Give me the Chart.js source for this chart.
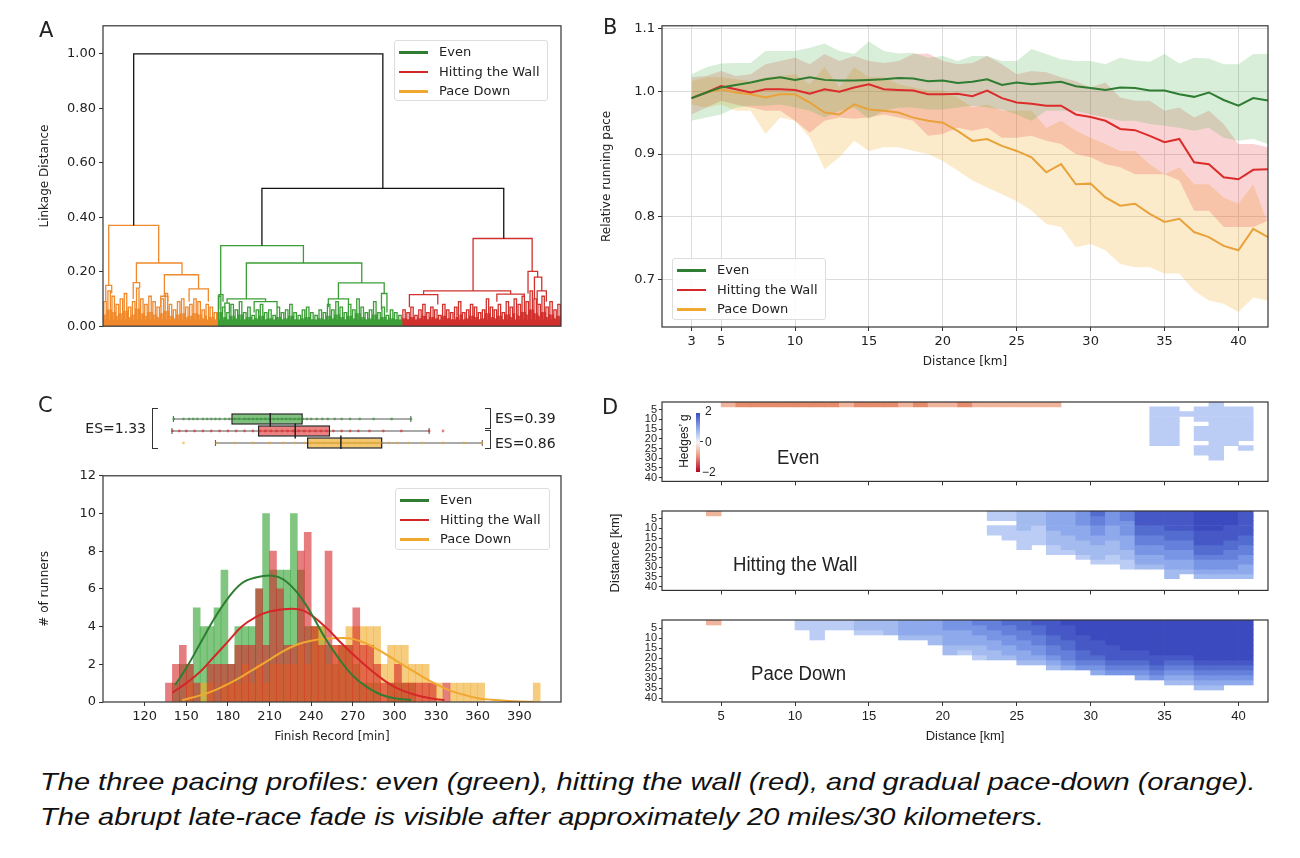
<!DOCTYPE html>
<html>
<head>
<meta charset="utf-8">
<script src="https://cdn.jsdelivr.net/npm/chart.js@4.4.1/dist/chart.umd.min.js"></script>
<style>
  body { margin: 0; background: #fff; width: 1300px; height: 858px; position: relative; overflow: hidden;
         font-family: "DejaVu Sans", sans-serif; color: #222; }
  canvas, .abs { position: absolute; }
  .lbl { font-size: 21px; line-height: 24px; }
  .legend { position: absolute; border: 1px solid #ddd; border-radius: 3px; background: rgba(255,255,255,0.85);
            font-size: 13px; box-sizing: border-box; padding: 1px 0 0 4px; }
  .legend div { height: 19.5px; line-height: 19.5px; white-space: nowrap; }
  .legend span { display: inline-block; width: 29px; height: 2.5px; vertical-align: middle; margin-right: 11px; }
  .es { font-size: 14px; line-height: 16px; white-space: nowrap; }
  .brk { position: absolute; border: 1.5px solid #333; box-sizing: border-box; }
  .rot { position: absolute; transform: translate(-50%, -50%) rotate(-90deg); white-space: nowrap; }
  .dtxt { font-family: "Liberation Sans", sans-serif; font-size: 17px; line-height: 20px; white-space: nowrap; }
  .big { font-size: 20px; line-height: 22px; transform: scaleX(0.93); transform-origin: left center; }
  .cap { left: 40px; top: 764px; font-family: "Liberation Sans", sans-serif; font-style: italic;
         font-size: 24px; line-height: 35px; color: #111; white-space: nowrap;
         transform: scaleX(1.21); transform-origin: left top; }
</style>
</head>
<body>

<canvas id="cA" width="537" height="322" style="left:34px;top:15px"></canvas>
<canvas id="cB" width="682" height="358" style="left:596px;top:15px"></canvas>
<canvas id="cBox" width="537" height="54" style="left:34px;top:404px"></canvas>
<canvas id="cC" width="537" height="283" style="left:34px;top:465px"></canvas>
<canvas id="cD1" width="682" height="98" style="left:596px;top:392px"></canvas>
<canvas id="cD2" width="682" height="98" style="left:596px;top:501px"></canvas>
<canvas id="cD3" width="682" height="138" style="left:596px;top:610px"></canvas>

<div class="abs lbl" style="left:39px;top:18px">A</div>
<div class="abs lbl" style="left:603px;top:15px">B</div>
<div class="abs lbl" style="left:38px;top:393px">C</div>
<div class="abs lbl" style="left:602px;top:395px">D</div>

<div class="legend" style="left:394px;top:40px;width:154px;height:61px">
  <div><span style="background:#2e7d32"></span>Even</div>
  <div><span style="background:#d62728"></span>Hitting the Wall</div>
  <div><span style="background:#f0a830"></span>Pace Down</div>
</div>
<div class="legend" style="left:672px;top:258px;width:154px;height:62px">
  <div><span style="background:#2e7d32"></span>Even</div>
  <div><span style="background:#d62728"></span>Hitting the Wall</div>
  <div><span style="background:#f0a830"></span>Pace Down</div>
</div>
<div class="legend" style="left:395px;top:488px;width:155px;height:62px">
  <div><span style="background:#2e7d32"></span>Even</div>
  <div><span style="background:#d62728"></span>Hitting the Wall</div>
  <div><span style="background:#f0a830"></span>Pace Down</div>
</div>

<!-- effect size brackets above the histogram -->
<div class="abs es" style="left:80px;top:420px;width:66px;text-align:right">ES=1.33</div>
<div class="brk" style="left:152px;top:408px;width:6px;height:41px;border-right:none"></div>
<div class="brk" style="left:485px;top:408px;width:6px;height:21px;border-left:none"></div>
<div class="brk" style="left:485px;top:430px;width:6px;height:19px;border-left:none"></div>
<div class="abs es" style="left:495px;top:410px">ES=0.39</div>
<div class="abs es" style="left:495px;top:435px">ES=0.86</div>

<!-- panel D texts and colour bar -->
<div class="abs dtxt big" style="left:777px;top:446px">Even</div>
<div class="abs dtxt big" style="left:733px;top:553px">Hitting the Wall</div>
<div class="abs dtxt big" style="left:751px;top:662px">Pace Down</div>
<div class="abs" style="left:696px;top:413px;width:4px;height:59px;
     background:linear-gradient(to bottom,#3b4cc0,#9fb8f0 30%,#f4f4f4 50%,#efa58a 70%,#b40426)"></div>
<div class="abs" style="left:700px;top:441px;width:3px;height:1px;background:#333"></div>
<div class="abs dtxt" style="left:705px;top:404px;font-size:12px;line-height:14px">2</div>
<div class="abs dtxt" style="left:705px;top:435px;font-size:12px;line-height:14px">0</div>
<div class="abs dtxt" style="left:702px;top:465px;font-size:12px;line-height:14px">&minus;2</div>
<div class="rot dtxt" style="left:684px;top:441px;font-size:12px;line-height:14px">Hedges’ g</div>
<div class="rot dtxt" style="left:614px;top:553px;font-size:13px;line-height:15px">Distance [km]</div>

<div class="abs cap">The three pacing profiles: even (green), hitting the wall (red), and gradual pace-down (orange).<br>The abrupt late-race fade is visible after approximately 20 miles/30 kilometers.</div>

<script>
// ---------- Panel A: dendrogram (leaf axis 0..1000, height = linkage distance) ----------
// links: [left x, right x, height, left child height, right child height]
const rootLinks = [[67, 611, 1.0, 0.37, 0.506], [347, 875, 0.506, 0.296, 0.322]];
const orangeLinks = [[12.5, 121.6, 0.37, 0.15, 0.232], [73, 172.5, 0.232, 0.16, 0.189], [134, 208.6, 0.189, 0.11, 0.137],
  [188, 230, 0.137, 0.09, 0.09], [6, 19, 0.15, 0.09, 0.12], [66, 80, 0.16, 0.1, 0.14], [126, 142, 0.11, 0.07, 0.09]];
const greenLinks = [[257, 437.6, 0.296, 0.116, 0.232], [313, 565, 0.232, 0.1, 0.159], [514, 614, 0.159, 0.1, 0.12],
  [253, 262, 0.116, 0.06, 0.09], [271, 355, 0.1, 0.085, 0.09], [492, 536, 0.1, 0.07, 0.08], [608, 620, 0.12, 0.06, 0.05],
  [266, 276, 0.085, 0.05, 0.05], [330, 380, 0.09, 0.05, 0.06]];
const redLinks = [[808, 937, 0.322, 0.13, 0.201], [700, 890, 0.13, 0.116, 0.118], [669, 731, 0.116, 0.07, 0.08],
  [860, 920, 0.118, 0.09, 0.1], [928, 949, 0.201, 0.12, 0.18], [942, 958, 0.18, 0.1, 0.13], [948, 968, 0.13, 0.08, 0.09]];
// leaf ranges of the three clusters and the heights of their low-level merges
const orangeSpan = [0, 250];
const greenSpan = [250, 653];
const redSpan = [653, 1000];
const orangeFuzz = [0.09, 0.13, 0.11, 0.08, 0.1, 0.12, 0.07, 0.09, 0.14, 0.1, 0.08, 0.11, 0.09, 0.07, 0.1, 0.12, 0.08, 0.06,
  0.09, 0.1, 0.07, 0.08, 0.1, 0.09, 0.06, 0.08, 0.07, 0.05];
const greenFuzz = [0.11, 0.07, 0.05, 0.08, 0.06, 0.09, 0.05, 0.07, 0.04, 0.06, 0.08, 0.05, 0.06, 0.04, 0.07, 0.05, 0.06, 0.08,
  0.05, 0.04, 0.06, 0.07, 0.05, 0.04, 0.06, 0.05, 0.08, 0.06, 0.09, 0.07, 0.05, 0.08, 0.06, 0.1, 0.07, 0.05, 0.06, 0.09, 0.05,
  0.07, 0.04, 0.06, 0.05, 0.04];
const redFuzz = [0.06, 0.05, 0.07, 0.04, 0.06, 0.08, 0.05, 0.07, 0.06, 0.04, 0.08, 0.06, 0.05, 0.07, 0.09, 0.05, 0.06, 0.08,
  0.07, 0.05, 0.06, 0.1, 0.07, 0.06, 0.08, 0.05, 0.09, 0.07, 0.1, 0.08, 0.11, 0.09, 0.13, 0.1, 0.08, 0.11, 0.07, 0.09, 0.06, 0.08];
const linkageTicks = [0, 0.2, 0.4, 0.6, 0.8, 1.0];

// ---------- Panel B: relative running pace ----------
const kmPoints = [3, 4, 5, 6, 7, 8, 9, 10, 11, 12, 13, 14, 15, 16, 17, 18, 19, 20, 21, 22, 23, 24, 25, 26, 27, 28, 29, 30,
  31, 32, 33, 34, 35, 36, 37, 38, 39, 40, 41, 42];
const evenPace = [0.989, 0.998, 1.006, 1.010, 1.014, 1.019, 1.022, 1.018, 1.022, 1.018, 1.017, 1.017, 1.018, 1.019, 1.021,
  1.020, 1.016, 1.017, 1.013, 1.015, 1.019, 1.010, 1.014, 1.011, 1.013, 1.015, 1.008, 1.005, 1.002, 1.006, 1.005, 1.001,
  1.001, 0.995, 0.991, 0.998, 0.986, 0.977, 0.989, 0.985];
const evenUpper = [1.027, 1.038, 1.044, 1.045, 1.045, 1.064, 1.064, 1.064, 1.069, 1.076, 1.064, 1.059, 1.079, 1.064, 1.060,
  1.061, 1.053, 1.056, 1.048, 1.056, 1.056, 1.048, 1.048, 1.067, 1.059, 1.051, 1.048, 1.048, 1.043, 1.053, 1.049, 1.047,
  1.059, 1.044, 1.053, 1.052, 1.043, 1.043, 1.059, 1.059];
const evenLower = [0.953, 0.958, 0.963, 0.974, 0.977, 0.977, 0.979, 0.974, 0.969, 0.958, 0.969, 0.974, 0.956, 0.969, 0.974,
  0.974, 0.971, 0.971, 0.974, 0.977, 0.974, 0.971, 0.963, 0.953, 0.969, 0.969, 0.969, 0.963, 0.958, 0.953, 0.953, 0.948,
  0.945, 0.942, 0.937, 0.942, 0.926, 0.921, 0.924, 0.916];
const wallPace = [0.989, 0.998, 1.008, 1.003, 0.998, 1.003, 1.003, 1.002, 0.996, 1.003, 0.999, 1.006, 1.011, 1.003, 1.002,
  1.001, 0.995, 0.995, 0.996, 0.992, 1.001, 0.989, 0.982, 0.980, 0.977, 0.977, 0.963, 0.959, 0.953, 0.940, 0.938, 0.929,
  0.919, 0.924, 0.887, 0.884, 0.863, 0.860, 0.875, 0.876];
const wallUpper = [1.022, 1.024, 1.032, 1.024, 1.027, 1.043, 1.048, 1.053, 1.043, 1.059, 1.048, 1.056, 1.048, 1.045, 1.048,
  1.059, 1.060, 1.048, 1.043, 1.045, 1.056, 1.043, 1.027, 1.032, 1.030, 1.022, 1.016, 1.006, 1.014, 0.990, 0.985, 0.985,
  0.969, 0.974, 0.958, 0.969, 0.948, 0.916, 0.916, 0.911];
const wallLower = [0.963, 0.974, 0.985, 0.979, 0.974, 0.969, 0.969, 0.953, 0.934, 0.953, 0.958, 0.956, 0.958, 0.963, 0.958,
  0.953, 0.929, 0.932, 0.942, 0.937, 0.942, 0.926, 0.926, 0.929, 0.921, 0.916, 0.900, 0.895, 0.884, 0.879, 0.868, 0.868,
  0.868, 0.858, 0.810, 0.810, 0.784, 0.784, 0.784, 0.794];
const downPace = [0.989, 0.998, 1.003, 0.998, 0.995, 0.990, 0.995, 0.995, 0.982, 0.966, 0.963, 0.979, 0.971, 0.969, 0.966,
  0.958, 0.953, 0.950, 0.937, 0.921, 0.924, 0.913, 0.905, 0.895, 0.871, 0.884, 0.852, 0.853, 0.831, 0.818, 0.821, 0.805,
  0.792, 0.797, 0.776, 0.768, 0.754, 0.747, 0.781, 0.768];
const downUpper = [1.016, 1.022, 1.022, 1.019, 1.016, 1.022, 1.024, 1.027, 1.011, 1.038, 1.006, 1.038, 1.022, 1.022, 1.011,
  1.006, 1.001, 1.001, 0.990, 0.974, 0.979, 0.969, 0.969, 0.969, 0.942, 0.953, 0.937, 0.926, 0.916, 0.905, 0.905, 0.884,
  0.868, 0.879, 0.852, 0.852, 0.831, 0.821, 0.852, 0.789];
const downLower = [0.979, 0.974, 0.979, 0.969, 0.969, 0.932, 0.958, 0.953, 0.926, 0.876, 0.895, 0.921, 0.905, 0.911, 0.911,
  0.905, 0.900, 0.889, 0.874, 0.858, 0.847, 0.836, 0.825, 0.810, 0.789, 0.784, 0.752, 0.757, 0.747, 0.725, 0.720, 0.720,
  0.710, 0.710, 0.683, 0.667, 0.662, 0.649, 0.672, 0.667];
const distanceTicks = [3, 5, 10, 15, 20, 25, 30, 35, 40];
const paceTicks = [0.7, 0.8, 0.9, 1.0, 1.1];

// ---------- Panel C: finish times ----------
const binStarts = [135, 140, 145, 150, 155, 160, 165, 170, 175, 180, 185, 190, 195, 200, 205, 210, 215, 220, 225, 230, 235,
  240, 245, 250, 255, 260, 265, 270, 275, 280, 285, 290, 295, 300, 305, 310, 315, 320, 325, 330, 335, 340, 345, 350, 355,
  360, 365, 370, 375, 380, 385, 390, 395, 400];
const evenCounts = [0, 1, 2, 2, 5, 4, 4, 5, 7, 2, 4, 4, 4, 6, 10, 7, 7, 7, 10, 7, 4, 4, 4, 3, 2, 3, 3, 2, 1, 1, 1, 0, 1, 1, 1, 1,
  0, 0, 0, 0, 0, 0, 0, 0, 0, 0, 0, 0, 0, 0, 0, 0, 0, 0];
const wallCounts = [1, 2, 3, 2, 1, 0, 2, 2, 2, 2, 3, 3, 3, 6, 3, 8, 6, 3, 3, 8, 9, 4, 3, 8, 3, 3, 3, 5, 3, 3, 2, 1, 1, 2, 1, 1,
  1, 1, 1, 0, 1, 0, 0, 0, 0, 0, 0, 0, 0, 0, 0, 0, 0, 0];
const downCounts = [0, 0, 0, 1, 0, 1, 1, 0, 1, 1, 1, 2, 1, 2, 1, 2, 2, 2, 2, 3, 2, 4, 4, 2, 3, 3, 4, 4, 4, 4, 4, 2, 3, 3, 3, 2,
  2, 2, 1, 1, 0, 1, 1, 1, 1, 1, 0, 0, 0, 0, 0, 0, 0, 1];
// fitted normal curves: [minutes, runners]
const evenCurve = [[142, 0.9], [150, 1.8], [160, 3.1], [170, 4.4], [180, 5.5], [190, 6.3], [200, 6.6], [212, 6.7], [220, 6.5],
  [230, 5.8], [240, 4.7], [250, 3.4], [260, 2.3], [270, 1.4], [280, 0.8], [290, 0.4], [300, 0.2], [312, 0.1]];
const wallCurve = [[140, 0.5], [150, 1.0], [160, 1.6], [170, 2.4], [180, 3.2], [190, 4.0], [200, 4.5], [210, 4.8], [226, 4.95],
  [236, 4.8], [250, 4.0], [262, 3.1], [275, 2.2], [288, 1.4], [300, 0.8], [314, 0.4], [330, 0.15], [336, 0.1]];
const downCurve = [[147, 0.1], [160, 0.35], [170, 0.6], [180, 0.95], [190, 1.35], [200, 1.8], [210, 2.25], [220, 2.7],
  [230, 3.05], [240, 3.25], [250, 3.35], [262, 3.4], [270, 3.35], [280, 3.1], [290, 2.7], [300, 2.25], [310, 1.8],
  [320, 1.35], [330, 0.95], [340, 0.6], [350, 0.38], [360, 0.2], [370, 0.12], [380, 0.06], [390, 0.02], [400, 0.01]];
const finishTicks = [120, 150, 180, 210, 240, 270, 300, 330, 360, 390];
const runnerTicks = [0, 2, 4, 6, 8, 10, 12];
// box plots: [whisker low, q1, median, q3, whisker high]
const evenBox = [140.7, 182.4, 210.5, 234, 311.8];
const wallBox = [139.7, 201.6, 228.5, 253.7, 325];
const downBox = [171, 237, 261.4, 291.4, 363.3];
const evenDots = [141, 148, 152, 155, 158, 162, 165, 168, 171, 174, 178, 181, 185, 188, 192, 195, 198, 201, 204, 207, 210,
  213, 216, 219, 222, 225, 228, 231, 234, 237, 240, 244, 248, 252, 257, 262, 268, 275, 285, 298, 312];
const wallDots = [140, 145, 150, 156, 162, 168, 174, 180, 186, 192, 198, 203, 207, 211, 215, 219, 223, 227, 231, 235, 239,
  243, 247, 251, 256, 262, 268, 274, 282, 292, 305, 325, 335];
const downDots = [148, 172, 185, 198, 210, 220, 228, 235, 240, 245, 250, 255, 259, 263, 267, 271, 275, 280, 285, 290, 296,
  302, 310, 320, 335, 350, 363];

// ---------- Panel D: Hedges' g per km column, one character per 2.5 km row band ----------
// '1'..'9' = positive g (light to dark blue), 'a'..'c' = negative g, '0' = not significant
const evenCols = ['', '', '', '', 'a', 'b', 'b', 'b', 'b', 'b', 'b', 'b', 'a', 'b', 'b', 'b', 'a', 'b', 'a', 'a', 'b', 'a',
  'a', 'a', 'a', 'a', 'a', '', '', '', '', '', '', '022222222', '022222222', '0020', '02220222022', '222222222222',
  '022222222', '0222222202', ''];
const wallCols = ['', '', '', 'a', '', '', '', '', '', '', '', '', '', '', '', '', '', '', '', '', '', '', '22022', '220222',
  '33332222', '3332222', '444433322', '444443332', '5554443332', '76655443332', '55544433322', '665554443322',
  '888776655443', '888776655443', '88887766554433', '8888776655443', '99998887765543', '99998887765543',
  '99988877665543', '88888776655443', ''];
const paceCols = ['', '', '', 'a', '', '', '', '', '', '22', '2222', '22', '22', '332', '332', '333', '4443', '4443', '44433',
  '5544433', '5544432', '65544332', '66554433', '76655443', '776655443', '877665543', '8887766543', '9888776654',
  '9998887765', '99998887654', '99999888765', '99999988765', '999999887654', '999999988765', '9999999876543',
  '9999999876543', '99999999876543', '99999999876543', '9999999987654', '9999999987654', ''];
const heatTicks = [5, 10, 15, 20, 25, 30, 35, 40];

// ---------- styling ----------
const gColors = { '1': '#d5e0f7', '2': '#bccdf5', '3': '#a4bbf0', '4': '#8ea9ec', '5': '#7894e4', '6': '#6480da',
  '7': '#536ccf', '8': '#4658c6', '9': '#3b4bbf', 'a': '#f0b49c', 'b': '#e48c6c', 'c': '#d6684a' };

Chart.defaults.font.family = '"DejaVu Sans", sans-serif';
Chart.defaults.font.size = 13;
Chart.defaults.color = '#222';
Chart.defaults.animation = false;
Chart.defaults.responsive = false;
Chart.defaults.events = [];
Chart.defaults.plugins.legend.display = false;
Chart.defaults.plugins.tooltip.enabled = false;

// box around the plot area, like matplotlib spines
const framePlugin = {
  id: 'frame',
  afterDraw(chart) {
    const a = chart.chartArea, c = chart.ctx;
    c.save();
    c.strokeStyle = '#333';
    c.lineWidth = 1.2;
    c.strokeRect(a.left, a.top, a.right - a.left, a.bottom - a.top);
    c.restore();
  }
};

const fixW = w => s => { s.width = w; };
const fixH = h => s => { s.height = h; };
const setTicks = list => s => { s.ticks = list.map(v => ({ value: v })); };
const tickGrid = { drawOnChartArea: false, tickLength: 4, tickColor: '#333' };

// ---------- A ----------
function linkPoints(links) {
  const pts = [];
  links.forEach(([xl, xr, h, hl, hr]) => {
    pts.push({ x: xl, y: hl }, { x: xl, y: h }, { x: xr, y: h }, { x: xr, y: hr }, { x: xr, y: null });
  });
  return pts;
}
function fuzzLinks(hs, [a, b]) {
  const w = (b - a) / hs.length, out = [];
  hs.forEach((h, i) => {
    const xl = a + w * (i + 0.2), xr = a + w * (i + 0.8), lo = h * 0.45;
    out.push([xl, xr, h, lo, lo], [xl - w * 0.12, xl + w * 0.12, lo, 0, 0], [xr - w * 0.12, xr + w * 0.12, lo, 0, 0]);
  });
  return out;
}
function dendroSet(links, color) {
  return { data: linkPoints(links), showLine: true, borderColor: color, borderWidth: 1.3, pointRadius: 0 };
}
function baseSet([a, b], color) {
  return { data: [{ x: a, y: 0.025 }, { x: b, y: 0.025 }], showLine: true, fill: 'origin', backgroundColor: color,
    borderWidth: 0, pointRadius: 0 };
}
const orangeDendro = '#f0892c', greenDendro = '#3b9e36', redDendro = '#d0312d';

new Chart(document.getElementById('cA'), {
  type: 'scatter',
  data: { datasets: [
    dendroSet(rootLinks, '#111'),
    dendroSet(orangeLinks.concat(fuzzLinks(orangeFuzz, orangeSpan)), orangeDendro),
    dendroSet(greenLinks.concat(fuzzLinks(greenFuzz, greenSpan)), greenDendro),
    dendroSet(redLinks.concat(fuzzLinks(redFuzz, redSpan)), redDendro),
    baseSet(orangeSpan, orangeDendro), baseSet(greenSpan, greenDendro), baseSet(redSpan, redDendro)
  ] },
  options: {
    layout: { padding: { top: 10, right: 10, bottom: 10, left: 0 } },
    scales: {
      x: { type: 'linear', display: false, min: 0, max: 1000 },
      y: { type: 'linear', min: 0, max: 1.103, afterFit: fixW(69), afterBuildTicks: setTicks(linkageTicks),
        ticks: { autoSkip: false, callback: v => v.toFixed(2) }, grid: tickGrid, border: { display: false },
        title: { display: true, text: 'Linkage Distance', font: { size: 12 } } }
    }
  },
  plugins: [framePlugin]
});

// ---------- B ----------
const pts = arr => kmPoints.map((k, i) => ({ x: k, y: arr[i] }));
const lineSet = (arr, color) => ({ data: pts(arr), showLine: true, borderColor: color, borderWidth: 2, pointRadius: 0 });
const bandSet = (arr, fill) => ({ data: pts(arr), showLine: true, borderWidth: 0, pointRadius: 0,
  fill: fill ? '+1' : false, backgroundColor: fill || 'transparent' });
const lightGrid = { color: '#dcdcdc', tickLength: 4, tickColor: '#333' };

new Chart(document.getElementById('cB'), {
  type: 'scatter',
  data: { datasets: [
    lineSet(evenPace, '#2e7d32'), lineSet(wallPace, '#dc2b2b'), lineSet(downPace, '#e9a23b'),
    bandSet(evenUpper, 'rgba(60,170,60,0.2)'), bandSet(evenLower, null),
    bandSet(wallUpper, 'rgba(230,40,40,0.2)'), bandSet(wallLower, null),
    bandSet(downUpper, 'rgba(245,175,45,0.25)'), bandSet(downLower, null)
  ] },
  options: {
    layout: { padding: { top: 10, right: 10, bottom: 0, left: 0 } },
    scales: {
      x: { type: 'linear', min: 1, max: 42, afterFit: fixH(46), afterBuildTicks: setTicks(distanceTicks),
        ticks: { autoSkip: false, maxRotation: 0 }, grid: lightGrid, border: { display: false },
        title: { display: true, text: 'Distance [km]', font: { size: 12 } } },
      y: { type: 'linear', min: 0.625, max: 1.104, afterFit: fixW(66), afterBuildTicks: setTicks(paceTicks),
        ticks: { autoSkip: false, callback: v => v.toFixed(1) }, grid: lightGrid, border: { display: false },
        title: { display: true, text: 'Relative running pace', font: { size: 12 } } }
    }
  },
  plugins: [framePlugin]
});

// ---------- C: box plots ----------
const boxes = [evenBox, wallBox, downBox];
const boxFill = ['rgba(60,160,60,0.65)', 'rgba(228,60,60,0.65)', 'rgba(240,175,50,0.7)'];
const dotColor = ['rgba(50,150,50,0.6)', 'rgba(220,40,40,0.6)', 'rgba(240,170,40,0.6)'];
const boxSets = [{
  type: 'bar', indexAxis: 'y', order: 1,
  data: boxes.map((b, r) => ({ x: [b[1], b[3]], y: r })),
  backgroundColor: boxFill, borderColor: '#222', borderWidth: 1.5, borderSkipped: false,
  barPercentage: 0.96, categoryPercentage: 1
}];
boxes.forEach((b, r) => {
  boxSets.push({ type: 'scatter', order: 2, showLine: true, data: [{ x: b[0], y: r }, { x: b[4], y: r }],
    borderColor: '#555', borderWidth: 1, pointStyle: 'line', rotation: 90, pointRadius: 3, pointBorderColor: '#555' });
  boxSets.push({ type: 'scatter', order: 0, data: [{ x: b[2], y: r }], pointStyle: 'line', rotation: 90,
    pointRadius: 7.5, pointBorderColor: '#222', pointBorderWidth: 1.5 });
});
[evenDots, wallDots, downDots].forEach((d, r) => {
  boxSets.push({ type: 'scatter', order: 0, data: d.map(v => ({ x: v, y: r })), pointRadius: 1.4,
    pointBackgroundColor: dotColor[r], pointBorderWidth: 0 });
});
new Chart(document.getElementById('cBox'), {
  type: 'bar',
  data: { datasets: boxSets },
  options: {
    layout: { padding: { top: 4, right: 10, bottom: 5, left: 69 } },
    scales: {
      x: { type: 'linear', display: false, min: 90, max: 420, offset: false },
      y: { type: 'linear', display: false, min: -0.5, max: 2.5, reverse: true, offset: false }
    }
  }
});

// ---------- C: histogram ----------
const histSet = (counts, color, order) => ({
  type: 'bar', order, grouped: false, barPercentage: 1, categoryPercentage: 1, borderWidth: 0,
  backgroundColor: color,
  data: binStarts.map((b, i) => ({ x: b + 2.5, y: counts[i] })).filter(p => p.y > 0)
});
const curveSet = (curve, color) => ({
  type: 'scatter', order: 0, showLine: true, tension: 0.4, borderColor: color, borderWidth: 2, pointRadius: 0,
  data: curve.map(([x, y]) => ({ x, y }))
});
new Chart(document.getElementById('cC'), {
  type: 'bar',
  data: { datasets: [
    curveSet(evenCurve, '#2e7d32'), curveSet(wallCurve, '#d62728'), curveSet(downCurve, '#f0a830'),
    histSet(wallCounts, 'rgba(214,39,40,0.6)', 1),
    histSet(downCounts, 'rgba(240,170,40,0.6)', 2),
    histSet(evenCounts, 'rgba(44,160,44,0.6)', 3)
  ] },
  options: {
    layout: { padding: { top: 10, right: 10, bottom: 0, left: 0 } },
    scales: {
      x: { type: 'linear', min: 90, max: 420, offset: false, afterFit: fixH(46), afterBuildTicks: setTicks(finishTicks),
        ticks: { autoSkip: false, maxRotation: 0 }, grid: Object.assign({ offset: false }, tickGrid),
        border: { display: false }, title: { display: true, text: 'Finish Record [min]', font: { size: 12 } } },
      y: { type: 'linear', min: 0, max: 12, afterFit: fixW(69), afterBuildTicks: setTicks(runnerTicks),
        ticks: { autoSkip: false }, grid: tickGrid, border: { display: false },
        title: { display: true, text: '# of runners', font: { size: 12 } } }
    }
  },
  plugins: [framePlugin]
});

// ---------- D: heat maps ----------
function heatChart(id, cols, bottom) {
  const datasets = [];
  for (let band = 0; band < 16; band++) {
    const data = [];
    cols.forEach((s, k) => {
      const ch = s[band];
      if (ch && ch !== '0') data.push({ x: k + 1.5, y: [1 + 2.5 * band, 3.5 + 2.5 * band], c: gColors[ch] });
    });
    datasets.push({ data, grouped: false, barPercentage: 1, categoryPercentage: 1, borderWidth: 0,
      backgroundColor: ctx => (ctx.raw ? ctx.raw.c : 'transparent') });
  }
  const tickFont = { family: '"Liberation Sans", sans-serif', size: 11 };
  new Chart(document.getElementById(id), {
    type: 'bar',
    data: { datasets },
    options: {
      layout: { padding: { top: 10, right: 10, bottom: 0, left: 0 } },
      scales: {
        x: { type: 'linear', min: 1, max: 42, offset: false, afterFit: fixH(bottom ? 46 : 6),
          afterBuildTicks: setTicks(heatTicks),
          ticks: { display: bottom, autoSkip: false, maxRotation: 0, font: { family: tickFont.family, size: 13 } },
          grid: Object.assign({ offset: false }, tickGrid), border: { display: false },
          title: { display: bottom, text: 'Distance [km]', font: { family: tickFont.family, size: 13 } } },
        y: { type: 'linear', min: 1, max: 42, reverse: true, afterFit: fixW(66), afterBuildTicks: setTicks(heatTicks),
          ticks: { autoSkip: false, font: tickFont, padding: 2 }, grid: { drawOnChartArea: false, tickLength: 3, tickColor: '#333' },
          border: { display: false } }
      }
    },
    plugins: [framePlugin]
  });
}
heatChart('cD1', evenCols, false);
heatChart('cD2', wallCols, false);
heatChart('cD3', paceCols, true);
</script>
</body>
</html>
